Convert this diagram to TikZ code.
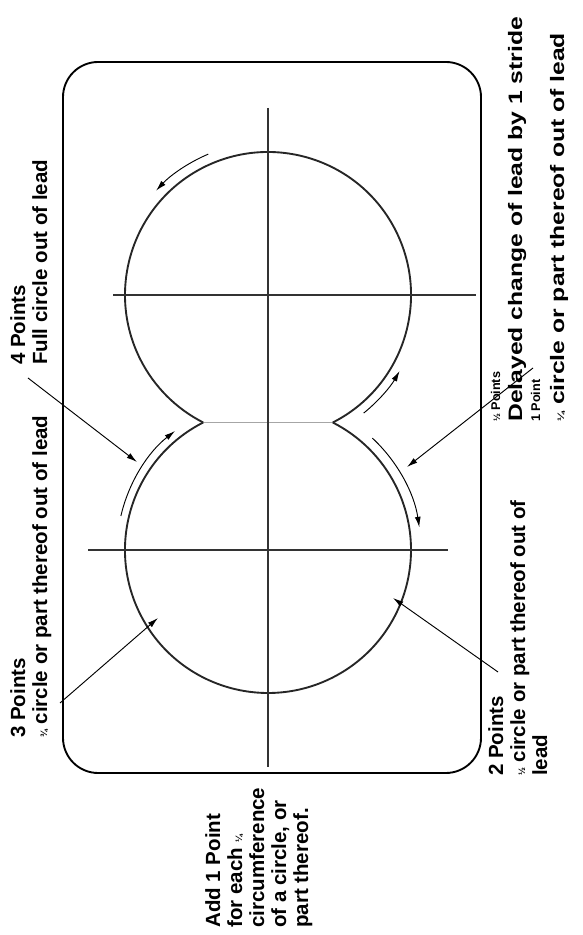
\documentclass[tikz,border=0pt]{standalone}
\usepackage{fontspec}
\setmainfont{Liberation Sans}
\newfontfamily\widesans[FakeStretch=1.27]{Liberation Sans}
\usetikzlibrary{arrows.meta, calc}
\newcommand{\smallfrac}[1]{{\fontsize{8}{8}\selectfont #1}}

\begin{document}
\begin{tikzpicture}[x=0.03cm, y=0.03cm,
    circ/.style={line width=1.6pt, black!85},
    axis/.style={line width=1.6pt, black!80},
    pointer/.style={line width=0.8pt, -{Latex[length=9pt,width=5pt]}},
    motion/.style={line width=0.8pt, -{Latex[length=9pt,width=5pt]}},
    lbl/.style={rotate=90, anchor=north west, inner sep=0pt, align=left,
        font=\bfseries\fontsize{17.5}{18.8}\selectfont},
    bigline/.style={rotate=90, anchor=base west, inner sep=0pt,
        font=\widesans\bfseries\fontsize{16.6}{17}\selectfont},
    smallline/.style={rotate=90, anchor=base west, inner sep=0pt,
        font=\bfseries\fontsize{10.8}{11}\selectfont}]

    \useasboundingbox (0,0) rectangle (582,935);

    % Arena
    \draw[line width=1.6pt, rounded corners=30] (63,162) rectangle (481,873);

    % Centres of the two circles and their crossing points
    \coordinate (U) at (268,640);
    \coordinate (L) at (268,385);
    \coordinate (CL) at (203.2,512.5);
    \coordinate (CR) at (332.8,512.5);

    % Figure of eight
    \draw[line width=1.2pt, black!35] (CL) -- (CR);
    \draw[circ] (CR) arc[start angle=-63.06, end angle=243.06, radius=143];
    \draw[circ] (CL) arc[start angle=116.94, end angle=423.06, radius=143];

    % Cross lines
    \draw[axis] (268,827) -- (268,168);
    \draw[axis] (113,640) -- (476,640);
    \draw[axis] (88,385) -- (448,385);

    % Direction of travel
    \draw[motion] ($(U)+(113:153)$) arc[start angle=113, end angle=137, radius=153];
    \draw[motion] ($(L)+(167:151)$) arc[start angle=167, end angle=128, radius=151];
    \draw[motion] ($(U)+(-51:152)$) arc[start angle=-51, end angle=-30, radius=152];
    \draw[motion] ($(L)+(47:153)$) arc[start angle=47, end angle=8.5, radius=153];

    % Labels
    \node[lbl] (four) at (10,570) {4 Points\\Full circle out of lead};
    \node[lbl] (three) at (10,197) {3 Points\\\smallfrac{¾} circle or part thereof out of lead};
    \node[lbl] (two) at (488,159) {2 Points\\\smallfrac{½} circle or part thereof out of\\lead};
    \node[smallline] (half) at (500,513) {\smallfrac{½} Points};
    \node[bigline] (delay) at (522,513) {Delayed change of lead by 1 stride};
    \node[smallline] (one) at (540,513) {1 Point};
    \node[bigline] (quarter) at (564,513) {\smallfrac{¼} circle or part thereof out of lead};
    \node[lbl] (add) at (205,7) {Add 1 Point\\for each \smallfrac{¼}\\circumference\\of a circle, or\\part thereof.};

    % Pointers
    \coordinate (fourfoot) at (28,557);
    \coordinate (fourtip) at (137,473);
    \coordinate (threefoot) at (60,232);
    \coordinate (threetip) at (158,317);
    \coordinate (twofoot) at (498,263);
    \coordinate (twotip) at (393,337);
    \coordinate (halffoot) at (533,567);
    \coordinate (halftip) at (407,468);
    \draw[pointer] (fourfoot) -- (fourtip);
    \draw[pointer] (threefoot) -- (threetip);
    \draw[pointer] (twofoot) -- (twotip);
    \draw[pointer] (halffoot) -- (halftip);
\end{tikzpicture}
\end{document}
